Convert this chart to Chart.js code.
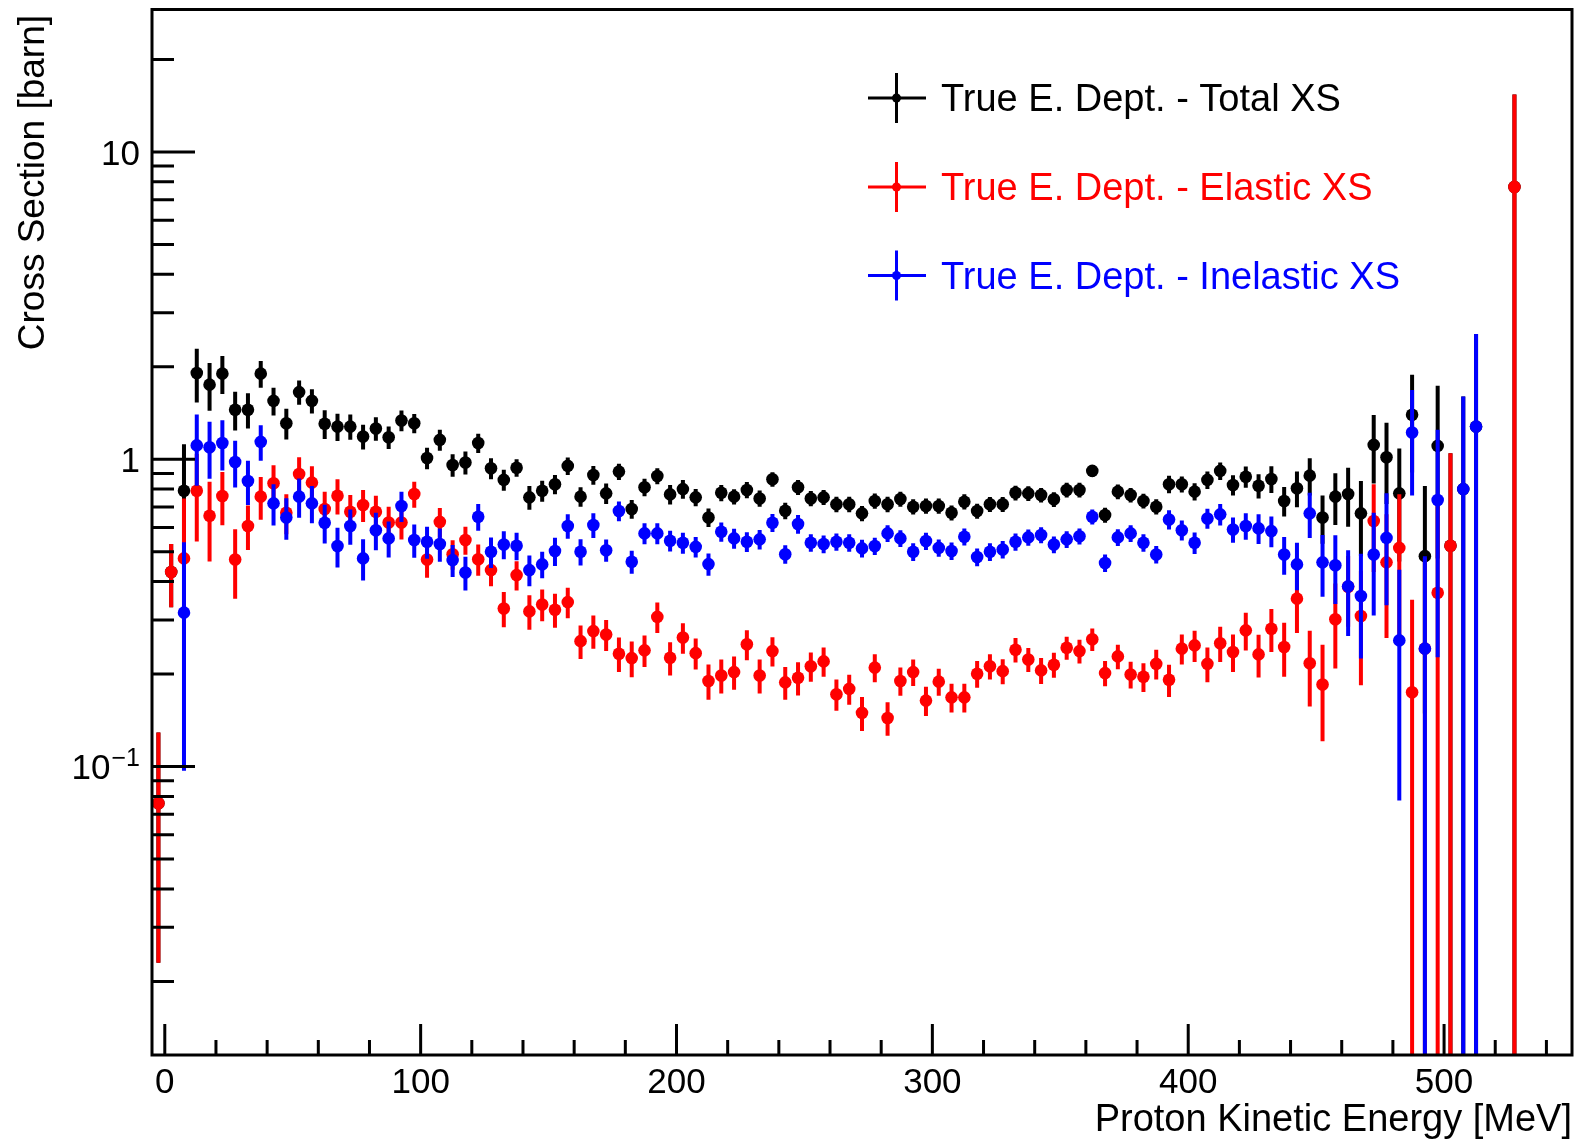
<html>
<head>
<script src="https://cdn.jsdelivr.net/npm/chart.js@4.4.0/dist/chart.umd.min.js"></script>
<style>
  body { margin: 0; background: #fff; }
</style>
</head>
<body>
<canvas id="myChart" width="1583" height="1139"></canvas>
<script>
// bin centres [MeV]
const energies = [
  -2.5, 2.5, 7.5, 12.5, 17.5, 22.5, 27.5, 32.5, 37.5, 42.5,
  47.5, 52.5, 57.5, 62.5, 67.5, 72.5, 77.5, 82.5, 87.5, 92.5,
  97.5, 102.5, 107.5, 112.5, 117.5, 122.5, 127.5, 132.5, 137.5, 142.5,
  147.5, 152.5, 157.5, 162.5, 167.5, 172.5, 177.5, 182.5, 187.5, 192.5,
  197.5, 202.5, 207.5, 212.5, 217.5, 222.5, 227.5, 232.5, 237.5, 242.5,
  247.5, 252.5, 257.5, 262.5, 267.5, 272.5, 277.5, 282.5, 287.5, 292.5,
  297.5, 302.5, 307.5, 312.5, 317.5, 322.5, 327.5, 332.5, 337.5, 342.5,
  347.5, 352.5, 357.5, 362.5, 367.5, 372.5, 377.5, 382.5, 387.5, 392.5,
  397.5, 402.5, 407.5, 412.5, 417.5, 422.5, 427.5, 432.5, 437.5, 442.5,
  447.5, 452.5, 457.5, 462.5, 467.5, 472.5, 477.5, 482.5, 487.5, 492.5,
  497.5, 502.5, 507.5, 512.5, 517.5, 522.5, 527.5
];

const totalXS = [
  0.076, 0.43, 0.79, 1.91, 1.75, 1.90, 1.45, 1.45, 1.90, 1.55,
  1.31, 1.655, 1.55, 1.305, 1.278, 1.278, 1.186, 1.26, 1.18, 1.337,
  1.31, 1.01, 1.157, 0.958, 0.976, 1.13, 0.935, 0.857, 0.939, 0.752,
  0.79, 0.83, 0.952, 0.756, 0.889, 0.775, 0.912, 0.689, 0.811, 0.883,
  0.769, 0.80, 0.752, 0.647, 0.778, 0.756, 0.795, 0.746, 0.861, 0.68,
  0.811, 0.746, 0.752, 0.714, 0.714, 0.667, 0.732, 0.714, 0.743, 0.701,
  0.705, 0.705, 0.67, 0.728, 0.679, 0.714, 0.714, 0.778, 0.775, 0.765,
  0.741, 0.795, 0.795, 0.917, 0.659, 0.785, 0.765, 0.732, 0.701, 0.83,
  0.83, 0.785, 0.857, 0.917, 0.825, 0.878, 0.82, 0.863, 0.732, 0.805,
  0.885, 0.647, 0.756, 0.771, 0.667, 1.114, 1.016, 0.775, 1.396, 0.484,
  1.106, 0.523, 0.80, 1.278, null, null, 7.7
];
const totalErr = [
  0.053, 0.10, 0.33, 0.38, 0.31, 0.27, 0.21, 0.19, 0.19, 0.16,
  0.15, 0.15, 0.14, 0.14, 0.13, 0.12, 0.11, 0.11, 0.10, 0.104,
  0.095, 0.081, 0.09, 0.08, 0.084, 0.082, 0.073, 0.067, 0.061, 0.067,
  0.062, 0.06, 0.062, 0.055, 0.062, 0.06, 0.055, 0.048, 0.053, 0.053,
  0.056, 0.056, 0.049, 0.045, 0.047, 0.043, 0.048, 0.045, 0.047, 0.042,
  0.046, 0.042, 0.042, 0.041, 0.041, 0.038, 0.042, 0.041, 0.042, 0.04,
  0.04, 0.04, 0.038, 0.042, 0.038, 0.04, 0.04, 0.043, 0.043, 0.042,
  0.041, 0.044, 0.044, 0.04, 0.037, 0.043, 0.042, 0.04, 0.04, 0.054,
  0.05, 0.051, 0.056, 0.06, 0.062, 0.07, 0.074, 0.086, 0.08, 0.107,
  0.123, 0.116, 0.145, 0.168, 0.183, 0.28, 0.3, 0.31, 0.49, 0.335,
  0.63, 0.523, 0.80, 1.278, null, null, 7.7
];

const elasticXS = [
  0.076, 0.43, 0.476, 0.79, 0.655, 0.76, 0.472, 0.607, 0.756, 0.836,
  0.67, 0.896, 0.84, 0.689, 0.761, 0.675, 0.71, 0.675, 0.623, 0.623,
  0.771, 0.472, 0.626, 0.491, 0.546, 0.473, 0.436, 0.327, 0.42, 0.32,
  0.337, 0.324, 0.343, 0.256, 0.276, 0.269, 0.233, 0.2255, 0.239, 0.307,
  0.226, 0.263, 0.234, 0.19, 0.198, 0.203, 0.25, 0.198, 0.2376, 0.188,
  0.1945, 0.212, 0.22, 0.172, 0.179, 0.1496, 0.21, 0.144, 0.19, 0.203,
  0.164, 0.189, 0.168, 0.168, 0.2005, 0.212, 0.2045, 0.24, 0.223, 0.2056,
  0.2145, 0.2437, 0.2376, 0.2596, 0.2015, 0.2284, 0.1995, 0.196, 0.216, 0.1916,
  0.242, 0.248, 0.216, 0.252, 0.236, 0.2776, 0.2318, 0.281, 0.245, 0.352,
  0.217, 0.185, 0.3015, 0.385, 0.309, 0.63, 0.462, 0.515, 0.1746, 0.242,
  0.368, 0.523, null, null, null, null, 7.7
];
const elasticErr = [
  0.053, 0.10, 0.27, 0.25, 0.19, 0.15, 0.12, 0.10, 0.12, 0.12,
  0.10, 0.12, 0.11, 0.095, 0.10, 0.09, 0.085, 0.086, 0.078, 0.075,
  0.075, 0.06, 0.069, 0.054, 0.057, 0.055, 0.05, 0.043, 0.046, 0.041,
  0.04, 0.041, 0.039, 0.032, 0.034, 0.031, 0.03, 0.03, 0.028, 0.035,
  0.028, 0.03, 0.027, 0.025, 0.025, 0.025, 0.028, 0.025, 0.026, 0.023,
  0.024, 0.023, 0.024, 0.02, 0.02, 0.019, 0.022, 0.018, 0.02, 0.02,
  0.018, 0.019, 0.018, 0.018, 0.02, 0.02, 0.019, 0.022, 0.02, 0.02,
  0.02, 0.021, 0.021, 0.022, 0.019, 0.021, 0.02, 0.021, 0.024, 0.023,
  0.027, 0.029, 0.028, 0.033, 0.033, 0.039, 0.037, 0.045, 0.049, 0.08,
  0.06, 0.064, 0.093, 0.10, 0.125, 0.2, 0.2, 0.255, 0.1746, 0.236,
  0.368, 0.523, null, null, null, null, 7.7
];

const inelasticXS = [
  null, null, 0.317, 1.11, 1.095, 1.13, 0.98, 0.85, 1.14, 0.719,
  0.647, 0.756, 0.719, 0.622, 0.522, 0.607, 0.476, 0.588, 0.553, 0.705,
  0.546, 0.539, 0.53, 0.47, 0.428, 0.65, 0.50, 0.528, 0.523, 0.436,
  0.455, 0.503, 0.607, 0.50, 0.611, 0.506, 0.679, 0.464, 0.574, 0.574,
  0.543, 0.535, 0.519, 0.456, 0.581, 0.553, 0.539, 0.549, 0.622, 0.491,
  0.616, 0.535, 0.53, 0.539, 0.535, 0.513, 0.522, 0.574, 0.553, 0.50,
  0.542, 0.515, 0.503, 0.56, 0.481, 0.50, 0.509, 0.539, 0.557, 0.567,
  0.528, 0.549, 0.562, 0.65, 0.46, 0.557, 0.574, 0.535, 0.49, 0.637,
  0.588, 0.535, 0.642, 0.662, 0.591, 0.607, 0.596, 0.584, 0.49, 0.455,
  0.667, 0.462, 0.452, 0.386, 0.359, 0.49, 0.555, 0.2575, 1.222, 0.242,
  0.737, null, 0.80, 1.278, null, null, null
];
const inelasticErr = [
  null, null, 0.22, 0.29, 0.23, 0.21, 0.17, 0.14, 0.15, 0.11,
  0.10, 0.11, 0.10, 0.09, 0.077, 0.08, 0.073, 0.082, 0.074, 0.08,
  0.068, 0.064, 0.066, 0.056, 0.054, 0.065, 0.057, 0.055, 0.054, 0.05,
  0.045, 0.053, 0.056, 0.049, 0.056, 0.042, 0.05, 0.04, 0.045, 0.045,
  0.042, 0.042, 0.04, 0.038, 0.042, 0.041, 0.04, 0.04, 0.042, 0.034,
  0.043, 0.035, 0.035, 0.035, 0.035, 0.034, 0.034, 0.036, 0.035, 0.033,
  0.035, 0.033, 0.033, 0.036, 0.032, 0.033, 0.033, 0.035, 0.034, 0.034,
  0.033, 0.034, 0.034, 0.036, 0.03, 0.035, 0.036, 0.035, 0.032, 0.046,
  0.044, 0.043, 0.048, 0.053, 0.056, 0.06, 0.066, 0.067, 0.069, 0.08,
  0.112, 0.105, 0.114, 0.12, 0.134, 0.18, 0.22, 0.18, 0.46, 0.242,
  0.51, null, 0.80, 1.278, null, null, null
];

const seriesLabels = [
  "True E. Dept. - Total XS",
  "True E. Dept. - Elastic XS",
  "True E. Dept. - Inelastic XS"
];
const seriesColors = ["#000000", "#ff0000", "#0000ff"];

const xMajorTicks = [0, 100, 200, 300, 400, 500];
const yMajorTicks = [0.1, 1, 10];
const yTickLabels = ["10^-1", "1", "10"];

const FONT = '"Liberation Sans", Arial, Helvetica, sans-serif';

function toPoints(vals, errs) {
  return energies
    .map((e, i) => ({ x: e, y: vals[i], err: errs[i] }))
    .filter(p => p.y !== null);
}

// vertical error bars, drawn just before each dataset's markers
const errorBars = {
  id: "errorBars",
  beforeDatasetDraw(chart, args) {
    const ds = chart.data.datasets[args.index];
    const a = chart.chartArea;
    const y = chart.scales.y;
    const ctx = chart.ctx;
    ctx.save();
    ctx.beginPath();
    ctx.rect(a.left, a.top, a.right - a.left, a.bottom - a.top);
    ctx.clip();
    ctx.strokeStyle = ds.backgroundColor;
    ctx.lineWidth = 4;
    args.meta.data.forEach((pt, i) => {
      const d = ds.data[i];
      const top = y.getPixelForValue(d.y + d.err);
      const lo = d.y - d.err;
      const bot = lo > 0 ? Math.min(y.getPixelForValue(lo), a.bottom) : a.bottom;
      ctx.beginPath();
      ctx.moveTo(pt.x, Math.max(top, a.top));
      ctx.lineTo(pt.x, bot);
      ctx.stroke();
    });
    ctx.restore();
  }
};

// ROOT-like frame, inward ticks, labels, titles and legend
const rootFrame = {
  id: "rootFrame",
  afterDatasetsDraw(chart) {
    const ctx = chart.ctx;
    const a = chart.chartArea;
    const x = chart.scales.x;
    const y = chart.scales.y;
    ctx.save();
    ctx.strokeStyle = "#000";
    ctx.lineWidth = 3;
    ctx.strokeRect(a.left, a.top, a.right - a.left, a.bottom - a.top);

    ctx.beginPath();
    for (let dec = 0.01; dec < 100; dec *= 10) {
      for (let m = 1; m <= 9; m++) {
        const v = m * dec;
        if (v < y.min || v > y.max) continue;
        const p = y.getPixelForValue(v);
        const len = m === 1 ? 43 : 22;
        ctx.moveTo(a.left, p);
        ctx.lineTo(a.left + len, p);
      }
    }
    for (let v = 0; v <= 540; v += 20) {
      const p = x.getPixelForValue(v);
      const len = v % 100 === 0 ? 31 : 15;
      ctx.moveTo(p, a.bottom);
      ctx.lineTo(p, a.bottom - len);
    }
    ctx.stroke();

    ctx.fillStyle = "#000";
    ctx.font = "35px " + FONT;
    ctx.textBaseline = "alphabetic";
    ctx.textAlign = "center";
    xMajorTicks.forEach(v => {
      ctx.fillText(String(v), x.getPixelForValue(v), a.bottom + 38);
    });

    ctx.textAlign = "right";
    yMajorTicks.forEach((v, i) => {
      const p = y.getPixelForValue(v) + 12.5;
      const lab = yTickLabels[i];
      if (lab.indexOf("^") >= 0) {
        const [base, exp] = lab.split("^");
        ctx.font = "25px " + FONT;
        const expTxt = exp.replace("-", "\u2212");
        const w = ctx.measureText(expTxt).width;
        ctx.fillText(expTxt, 140, p - 13);
        ctx.font = "35px " + FONT;
        ctx.fillText(base, 140 - w - 1, p);
      } else {
        ctx.font = "35px " + FONT;
        ctx.fillText(lab, 140, p);
      }
    });

    // axis titles
    ctx.font = "38px " + FONT;
    ctx.textAlign = "right";
    ctx.fillText("Proton Kinetic Energy [MeV]", a.right, 1131);
    ctx.save();
    ctx.translate(44, 15);
    ctx.rotate(-Math.PI / 2);
    ctx.textAlign = "right";
    ctx.font = "37px " + FONT;
    ctx.fillText("Cross Section [barn]", 0, 0);
    ctx.restore();

    // legend
    const legY = [98, 187, 275.5];
    const mx = 896.5;
    seriesLabels.forEach((lab, i) => {
      const cy = legY[i];
      ctx.strokeStyle = seriesColors[i];
      ctx.fillStyle = seriesColors[i];
      ctx.lineWidth = 3;
      ctx.beginPath();
      ctx.moveTo(868, cy);
      ctx.lineTo(926, cy);
      ctx.moveTo(mx, cy - 25);
      ctx.lineTo(mx, cy + 25);
      ctx.stroke();
      ctx.beginPath();
      ctx.arc(mx, cy, 4.5, 0, Math.PI * 2);
      ctx.fill();
      ctx.font = "38px " + FONT;
      ctx.textAlign = "left";
      ctx.fillText(lab, 941, cy + 13);
    });
    ctx.restore();
  }
};

const ctx = document.getElementById("myChart").getContext("2d");
const chart = new Chart(ctx, {
  type: "scatter",
  data: {
    datasets: [
      { label: seriesLabels[0], data: toPoints(totalXS, totalErr), backgroundColor: seriesColors[0], order: 2 },
      { label: seriesLabels[1], data: toPoints(elasticXS, elasticErr), backgroundColor: seriesColors[1], order: 1 },
      { label: seriesLabels[2], data: toPoints(inelasticXS, inelasticErr), backgroundColor: seriesColors[2], order: 0 }
    ].map(ds => Object.assign(ds, {
      borderColor: ds.backgroundColor,
      pointRadius: 6.3,
      pointBorderWidth: 0,
      pointHoverRadius: 6.3,
      showLine: false
    }))
  },
  options: {
    responsive: false,
    animation: false,
    devicePixelRatio: 1,
    events: [],
    layout: { padding: { left: 152, top: 9.5, right: 11, bottom: 84 } },
    plugins: { legend: { display: false }, tooltip: { enabled: false } },
    scales: {
      x: { type: "linear", min: -5, max: 550, display: false },
      y: { type: "logarithmic", min: 0.01152, max: 29.1, display: false }
    }
  },
  plugins: [errorBars, rootFrame]
});
</script>
</body>
</html>
